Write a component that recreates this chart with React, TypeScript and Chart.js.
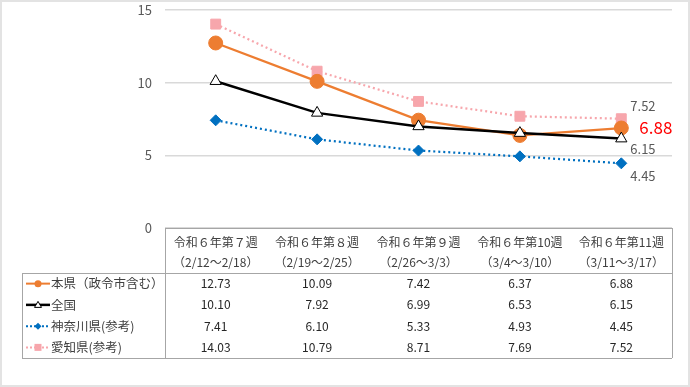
import React, { useEffect, useRef } from "react";
import { Chart, registerables } from "chart.js";

Chart.register(...registerables);

const weekLabels = ["令和６年第７週", "令和６年第８週", "令和６年第９週", "令和６年第10週", "令和６年第11週"];
const periodLabels = ["（2/12～2/18）", "（2/19～2/25）", "（2/26～3/3）", "（3/4～3/10）", "（3/11～3/17）"];
const seriesNames = ["本県（政令市含む）", "全国", "神奈川県(参考)", "愛知県(参考)"];
const honken = [12.73, 10.09, 7.42, 6.37, 6.88];
const zenkoku = [10.1, 7.92, 6.99, 6.53, 6.15];
const kanagawa = [7.41, 6.1, 5.33, 4.93, 4.45];
const aichi = [14.03, 10.79, 8.71, 7.69, 7.52];
const yMin = 0;
const yMax = 15;
const yStep = 5;

const seriesValues = [honken, zenkoku, kanagawa, aichi];

const FONT = '"Noto Sans CJK JP", "Noto Sans", sans-serif';
const TABLE_LINE = "#a6a6a6";

function drawMarker(ctx: CanvasRenderingContext2D, kind: number, x: number, y: number) {
  ctx.save();
  ctx.setLineDash([]);
  if (kind === 0) {
    ctx.fillStyle = "#ED7D31";
    ctx.beginPath();
    ctx.arc(x, y, 3.5, 0, Math.PI * 2);
    ctx.fill();
  } else if (kind === 1) {
    ctx.fillStyle = "#ffffff";
    ctx.strokeStyle = "#000000";
    ctx.lineWidth = 1;
    ctx.beginPath();
    ctx.moveTo(x, y - 3.5);
    ctx.lineTo(x + 3.5, y + 2.5);
    ctx.lineTo(x - 3.5, y + 2.5);
    ctx.closePath();
    ctx.fill();
    ctx.stroke();
  } else if (kind === 2) {
    ctx.fillStyle = "#0070C0";
    ctx.beginPath();
    ctx.moveTo(x, y - 3.5);
    ctx.lineTo(x + 3.5, y);
    ctx.lineTo(x, y + 3.5);
    ctx.lineTo(x - 3.5, y);
    ctx.closePath();
    ctx.fill();
  } else {
    ctx.fillStyle = "#F7A6AC";
    ctx.fillRect(x - 3.5, y - 3.5, 7, 7);
  }
  ctx.restore();
}

const tablePlugin = {
  id: "tablePlugin",
  afterDraw(chart: any) {
    const ctx: CanvasRenderingContext2D = chart.ctx;
    const area = chart.chartArea;
    const xScale = chart.scales.x;
    const left = area.left;
    const right = area.right;
    const top = area.bottom;
    const headerBottom = top + 45;
    const rowH = 21.25;
    const bottom = headerBottom + rowH * 4;
    const legendLeft = 22;

    ctx.save();
    // outer border
    ctx.strokeStyle = "#e3e3e3";
    ctx.lineWidth = 2;
    ctx.strokeRect(1, 1, chart.width - 2, chart.height - 2);

    // table lines
    ctx.strokeStyle = TABLE_LINE;
    ctx.lineWidth = 1;
    ctx.beginPath();
    ctx.moveTo(left, top + 0.5);
    ctx.lineTo(right, top + 0.5);
    ctx.moveTo(legendLeft, headerBottom + 0.5);
    ctx.lineTo(right, headerBottom + 0.5);
    ctx.moveTo(legendLeft, bottom + 0.5);
    ctx.lineTo(right, bottom + 0.5);
    ctx.moveTo(left + 0.5, top);
    ctx.lineTo(left + 0.5, bottom);
    ctx.moveTo(right + 0.5, top);
    ctx.lineTo(right + 0.5, bottom);
    ctx.moveTo(legendLeft + 0.5, headerBottom);
    ctx.lineTo(legendLeft + 0.5, bottom);
    ctx.stroke();

    // header
    ctx.fillStyle = "#404040";
    ctx.font = `12px ${FONT}`;
    ctx.textAlign = "center";
    ctx.textBaseline = "middle";
    weekLabels.forEach((w, i) => {
      const cx = xScale.getPixelForValue(i);
      ctx.fillText(w, cx, top + 14);
      ctx.fillText(periodLabels[i], cx, top + 34);
    });

    // values
    ctx.fillStyle = "#262626";
    ctx.font = `12px ${FONT}`;
    seriesValues.forEach((vals, r) => {
      const cy = headerBottom + rowH * r + rowH / 2;
      vals.forEach((v, i) => {
        const cx = xScale.getPixelForValue(i);
        ctx.fillText(v.toFixed(2), cx, cy);
      });
    });

    // legend column
    const lineColors = ["#ED7D31", "#000000", "#0070C0", "#F7A6AC"];
    const dashes = [[], [], [2, 2], [2, 2]];
    const widths = [2, 2.5, 2, 2];
    seriesNames.forEach((name, r) => {
      const cy = headerBottom + rowH * r + rowH / 2;
      ctx.save();
      ctx.strokeStyle = lineColors[r];
      ctx.lineWidth = widths[r];
      ctx.setLineDash(dashes[r]);
      ctx.beginPath();
      ctx.moveTo(26, cy);
      ctx.lineTo(50, cy);
      ctx.stroke();
      ctx.restore();
      drawMarker(ctx, r, 38, cy);
      ctx.fillStyle = "#404040";
      ctx.textAlign = "left";
      ctx.font = `12.5px ${FONT}`;
      ctx.fillText(name, 51, cy);
    });

    // end labels
    const lastIdx = honken.length - 1;
    const pt = (ds: number) => chart.getDatasetMeta(ds).data[lastIdx];
    ctx.textAlign = "left";
    ctx.textBaseline = "middle";
    ctx.fillStyle = "#595959";
    ctx.font = `13px ${FONT}`;
    const pPink = pt(3);
    ctx.fillText(aichi[lastIdx].toFixed(2), pPink.x + 9, pPink.y - 13);
    const pBlack = pt(1);
    ctx.fillText(zenkoku[lastIdx].toFixed(2), pBlack.x + 9, pBlack.y + 10);
    const pBlue = pt(2);
    ctx.fillText(kanagawa[lastIdx].toFixed(2), pBlue.x + 9, pBlue.y + 13);
    const pOrange = pt(0);
    ctx.fillStyle = "#FF0000";
    ctx.font = `17px ${FONT}`;
    ctx.fillText(honken[lastIdx].toFixed(2), pOrange.x + 18, pOrange.y);
    ctx.restore();
  },
};

export default function App() {
  const canvasRef = useRef<HTMLCanvasElement | null>(null);

  useEffect(() => {
    const canvas = canvasRef.current;
    if (!canvas) return;
    const chart = new Chart(canvas, {
      type: "line",
      data: {
        labels: weekLabels,
        datasets: [
          {
            label: seriesNames[0],
            data: honken,
            borderColor: "#ED7D31",
            backgroundColor: "#ED7D31",
            borderWidth: 2.25,
            pointStyle: "circle",
            pointRadius: 7,
            pointBackgroundColor: "#ED7D31",
            pointBorderColor: "#ED7D31",
            pointBorderWidth: 1,
            order: 1,
          },
          {
            label: seriesNames[1],
            data: zenkoku,
            borderColor: "#000000",
            backgroundColor: "#ffffff",
            borderWidth: 2.5,
            pointStyle: "triangle",
            pointRadius: 6.5,
            pointBackgroundColor: "#ffffff",
            pointBorderColor: "#000000",
            pointBorderWidth: 1,
            order: 0,
          },
          {
            label: seriesNames[2],
            data: kanagawa,
            borderColor: "#0070C0",
            backgroundColor: "#0070C0",
            borderWidth: 2.25,
            borderDash: [2, 3],
            pointStyle: "rectRot",
            pointRadius: 5.5,
            pointBackgroundColor: "#0070C0",
            pointBorderColor: "#0070C0",
            pointBorderWidth: 1,
            order: 2,
          },
          {
            label: seriesNames[3],
            data: aichi,
            borderColor: "#F7A6AC",
            backgroundColor: "#F7A6AC",
            borderWidth: 2.25,
            borderDash: [2, 3],
            pointStyle: "rect",
            pointRadius: 7,
            pointBackgroundColor: "#F7A6AC",
            pointBorderColor: "#F7A6AC",
            pointBorderWidth: 1,
            order: 3,
          },
        ],
      },
      options: {
        responsive: false,
        animation: false,
        layout: { autoPadding: false, padding: { left: 0, right: 18, top: 10, bottom: 159 } },
        plugins: {
          legend: { display: false },
          tooltip: { enabled: false },
        },
        elements: { line: { tension: 0 } },
        scales: {
          x: {
            display: false,
            offset: true,
          },
          y: {
            min: yMin,
            max: yMax,
            ticks: {
              stepSize: yStep,
              color: "#595959",
              font: { size: 13, family: FONT },
              padding: 13,
            },
            grid: {
              color: "#d9d9d9",
              lineWidth: 1.5,
              drawTicks: false,
            },
            border: { display: false },
            afterFit(scale: any) {
              scale.width = 165;
              scale.paddingTop = 0;
              scale.paddingBottom = 0;
            },
          },
        },
      },
      plugins: [tablePlugin],
    });
    return () => chart.destroy();
  }, []);

  return (
    <div style={{ position: "absolute", left: 0, top: 0, width: 690, height: 387, background: "#fff" }}>
      <canvas ref={canvasRef} width={690} height={387} />
    </div>
  );
}
